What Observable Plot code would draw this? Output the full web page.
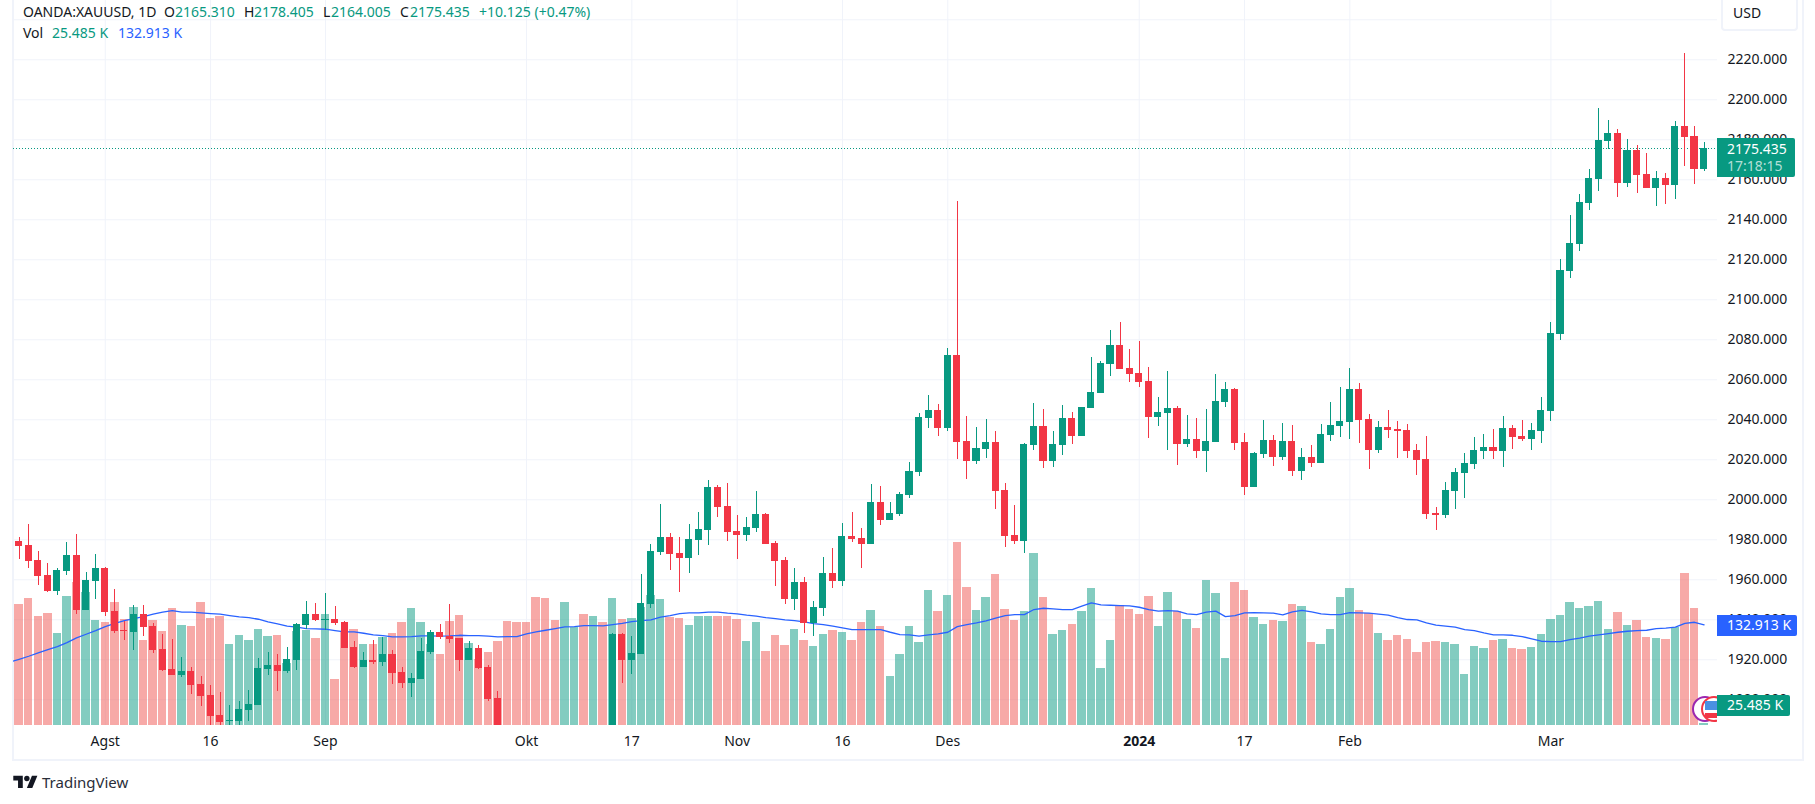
<!DOCTYPE html>
<html>
<head>
<meta charset="utf-8">
<script src="https://cdn.jsdelivr.net/npm/d3@7"></script>
<script src="https://cdn.jsdelivr.net/npm/@observablehq/plot@0.6"></script>
<style>
html,body{margin:0;padding:0;background:#fff;width:1815px;height:804px;overflow:hidden}
#wrap{position:relative;width:1815px;height:804px;font-family:"Noto Sans",sans-serif;color:#131722}
#wrap svg{display:block}
#pane{position:absolute;left:12px;top:-4px;width:1788px;height:763px;border:2px solid #f0f3fa;border-top:none}
#chart{position:absolute;left:0;top:0}
.t{position:absolute;white-space:pre;line-height:20px;font-size:14px}
.g{color:#089981}.b{color:#2962ff}
.badge{position:absolute;left:1717px;background:#089981;color:#fff;border-radius:0 2px 2px 0;font-size:14px}
.badge span{position:absolute;left:10px;white-space:pre;line-height:20px}
</style>
</head>
<body>
<div id="wrap">
<div id="pane"></div>
<div id="chart"></div>
<div class="t" style="left:23px;top:2px">OANDA:XAUUSD, 1D</div>
<div class="t" style="left:164px;top:2px">O</div><div class="t g" style="left:175px;top:2px">2165.310</div>
<div class="t" style="left:244px;top:2px">H</div><div class="t g" style="left:254px;top:2px">2178.405</div>
<div class="t" style="left:323px;top:2px">L</div><div class="t g" style="left:331px;top:2px">2164.005</div>
<div class="t" style="left:400px;top:2px">C</div><div class="t g" style="left:410px;top:2px">2175.435</div>
<div class="t g" style="left:479px;top:2px">+10.125 (+0.47%)</div>
<div class="t" style="left:23px;top:23px">Vol</div>
<div class="t g" style="left:52px;top:23px">25.485 K</div>
<div class="t b" style="left:118px;top:23px">132.913 K</div>
<div style="position:absolute;left:1721px;top:-3px;width:73px;height:30px;border:2px solid #f0f3fa;border-radius:4px;background:#fff"></div>
<div class="t" style="left:1733px;top:3px">USD</div>
<svg style="position:absolute;left:1685px;top:690px" width="32" height="35" viewBox="0 0 32 35">
<circle cx="20" cy="19" r="12" fill="#fff" stroke="#9c27b0" stroke-width="2"/>
<circle cx="29" cy="19" r="12" fill="#fff" stroke="#f23645" stroke-width="2"/>
<rect x="20" y="11" width="12" height="9" fill="#4a90e2"/>
<rect x="20" y="23" width="12" height="5" fill="#f23645"/>
</svg>
<div class="badge" style="top:138px;width:78px;height:39px"><span style="top:1px">2175.435</span><span style="top:18px;color:rgba(255,255,255,.7)">17:18:15</span></div>
<div class="badge" style="top:615px;width:80px;height:21px;background:#2962ff"><span style="top:0">132.913 K</span></div>
<div class="badge" style="top:695px;width:73px;height:21px"><span style="top:0">25.485 K</span></div>
<svg style="position:absolute;left:13px;top:773px" width="25" height="19" viewBox="0 0 36 28" fill="#131722">
<path d="M14 22H7V11H0V4h14v18zM28 22h-8l7.5-18h8L28 22z"/><circle cx="20" cy="8" r="4"/>
</svg>
<div class="t" style="left:42px;top:772px;color:#2a2e39;font-size:15px">TradingView</div>
</div>
<script>
const xTickIndex = [9,20,32,53,64,75,86,97,117,128,139,160];
const xTickLabels = ["Agst","16","Sep","Okt","17","Nov","16","Des","2024","17","Feb","Mar"];
const gridPrices = [1900,1920,1940,1960,1980,2000,2020,2040,2060,2080,2100,2120,2140,2160,2180,2200,2220,2240];
const axisPrices = [1900,1920,1940,1960,1980,2000,2020,2040,2060,2080,2100,2120,2140,2160,2180,2200,2220];
const lastClose = 2175.435;

const open = [1979.15,1977.15,1969.65,1962.15,1954.15,1964.15,1972.15,1944.65,1959.15,1965.65,
1944.15,1934.65,1933.65,1942.65,1936.65,1925.15,1915.15,1912.15,1914.15,1907.65,
1902.15,1892.15,1889.3,1889.15,1894.65,1897.15,1915.15,1917.15,1914.15,1919.65,
1937.15,1942.65,1939.8,1940.15,1938.65,1926.15,1916.15,1919.65,1918.65,1922.65,
1913.65,1908.15,1910.15,1923.65,1933.65,1931.65,1930.65,1919.65,1925.65,1916.15,
1900.65,null,null,null,null,null,null,null,null,null,
null,null,1869,1932.65,1919.65,1922.65,1947.65,1973.65,1981.15,1973.15,
1970.65,1979.65,1984.65,2006.15,1996.65,1984.15,1982.15,1985.65,1992.65,1978.15,
1969.65,1950.15,1958.65,1938.15,1945.65,1963.15,1959.15,1981.65,1980.65,1977.65,
1998.65,1989.65,1992.65,2002.15,2013.65,2040.65,2044.65,2035.65,2072.15,2029.15,
2019.15,2025.15,2028.65,2004.65,1982.15,1979.15,2027.15,2036.65,2019.15,2027.15,
2040.65,2031.65,2045.65,2053.15,2067.65,2077.15,2065.65,2063.15,2059.15,2041.15,
2043.15,2045.65,2027.65,2030.15,2024.15,2028.65,2048.65,2055.15,2028.65,2006.15,
2022.65,2029.65,2021.15,2029.15,2014.15,2021.15,2018.15,2032.15,2036.65,2038.65,
2055.15,2040.15,2024.65,2036.15,2035.15,2034.65,2024.65,2020.15,1993.15,1992.15,
2004.15,2013.15,2017.65,2024.15,2026.15,2024.15,2035.65,2031.65,2030.15,2034.15,
2044.15,2082.65,2114.15,2127.65,2148.15,2160.15,2179.15,2183.15,2158.15,2174.65,
2162.65,2155.65,2160.65,2157.15,2186.65,2181.65,2165.31];
const close = [1976.65,1969.15,1961.65,1954.15,1964.65,1972.15,1944.65,1959.65,1965.65,1943.65,
1934.15,1934.3,1942.65,1936.15,1924.65,1914.65,1912.15,1914.15,1907.15,1901.65,
1891.65,1888.65,1889.65,1895.15,1897.65,1915.65,1917.15,1914.15,1920.15,1937.65,
1942.65,1939.65,1940.15,1938.15,1925.65,1916.15,1919.65,1918.65,1922.65,1913.15,
1908.15,1910.65,1924.15,1933.65,1931.15,1930.15,1919.65,1925.65,1915.65,1900.15,
1874,null,null,null,null,null,null,null,null,null,
null,null,1932.65,1919.65,1923.15,1948.15,1974.15,1981.15,1972.65,1970.65,
1980.15,1985.15,2006.15,1996.15,1983.65,1982.15,1986.15,1992.65,1977.65,1969.15,
1950.15,1958.65,1938.15,1946.15,1963.15,1959.15,1981.65,1980.15,1977.65,1998.65,
1989.65,1993.15,2002.65,2014.15,2041.15,2044.65,2035.65,2072.15,2028.65,2019.15,
2025.65,2028.65,2004.15,1981.65,1979.15,2027.65,2036.65,2019.15,2027.65,2040.65,
2031.65,2046.15,2053.65,2068.15,2077.15,2065.15,2062.65,2058.65,2041.15,2043.65,
2045.65,2027.65,2030.15,2024.15,2029.15,2049.15,2055.15,2028.15,2006.15,2023.15,
2029.65,2021.15,2029.15,2014.15,2021.15,2018.15,2032.65,2037.15,2039.15,2055.15,
2039.65,2024.65,2036.15,2034.65,2034.15,2024.15,2019.65,1992.65,1992.15,2004.65,
2013.65,2018.15,2024.65,2026.15,2024.15,2035.65,2031.15,2030.15,2034.65,2044.65,
2083.15,2114.65,2128.15,2148.65,2160.65,2179.65,2183.15,2158.15,2174.65,2162.15,
2155.65,2160.65,2157.15,2186.65,2181.15,2165.15,2175.435];
const high = [1981.15,1987.65,1974.15,1968.15,1965.65,1978.65,1982.65,1963.65,1972.65,1966.15,
1955.15,1939.15,1947.15,1947.15,1938.15,1932.65,1930.15,1921.15,1916.15,1911.65,
1907.15,1903.65,1897.15,1899.15,1904.65,1920.65,1923.65,1922.65,1926.15,1938.15,
1949.15,1948.15,1953.15,1946.65,1939.15,1929.15,1923.65,1929.65,1931.15,1924.65,
1916.15,1913.15,1930.65,1934.65,1937.65,1947.65,1930.65,1929.15,1927.15,1917.15,
1904.15,null,null,null,null,null,null,null,null,null,
null,null,1933.15,1933.15,1931.65,1962.65,1977.65,1997.65,1983.15,1981.15,
1987.65,1993.65,2009.65,2007.15,2008.15,1992.15,1991.15,2004.15,1993.15,1979.15,
1971.15,1965.65,1961.15,1949.15,1971.15,1975.65,1988.15,1993.65,1985.65,2007.65,
2006.65,1998.65,2003.65,2018.65,2043.15,2052.15,2047.65,2075.65,2149.15,2041.65,
2036.15,2040.15,2034.15,2008.15,1997.15,2028.15,2048.15,2045.15,2034.15,2047.15,
2043.65,2046.15,2071.15,2069.15,2084.65,2088.65,2075.15,2079.15,2066.15,2051.15,
2064.15,2046.65,2042.15,2040.65,2045.15,2062.65,2058.65,2055.65,2033.15,2023.65,
2039.65,2032.15,2038.15,2037.15,2025.65,2027.15,2037.65,2048.65,2056.15,2065.65,
2058.15,2042.65,2039.15,2044.65,2039.15,2037.65,2027.65,2031.65,1996.15,2008.65,
2015.65,2023.15,2031.15,2032.65,2035.15,2041.65,2037.15,2039.65,2038.15,2051.15,
2088.65,2120.15,2142.15,2152.65,2165.15,2195.65,2189.65,2185.15,2180.15,2177.15,
2173.15,2164.15,2163.15,2189.15,2223.15,2186.65,2178.405];
const low = [1970.15,1965.65,1957.15,1953.65,1952.15,1962.15,1942.65,1944.65,1950.15,1941.65,
1933.15,1929.65,1924.65,1931.65,1923.15,1914.15,1912.15,1911.15,1902.65,1896.65,
1884,1884,1884,1884,1889.15,1897.15,1912.15,1904.15,1913.15,1914.65,
1935.15,1939.15,1934.65,1937.15,1925.65,1915.65,1916.15,1917.65,1916.65,1907.65,
1905.65,1901.15,1910.15,1922.65,1930.15,1928.15,1914.15,1919.65,1915.15,1899.15,
1871,null,null,null,null,null,null,null,null,null,
null,null,1868,1908.15,1912.65,1922.65,1945.65,1972.15,1964.65,1953.65,
1963.15,1972.15,1977.15,1991.15,1979.15,1970.15,1979.15,1983.65,1977.65,1956.65,
1947.65,1944.65,1933.15,1931.65,1941.65,1955.65,1956.65,1978.65,1965.65,1977.65,
1987.15,1989.65,1991.65,2000.65,2011.65,2035.65,2031.65,2034.15,2020.15,2010.15,
2017.65,2020.65,1995.15,1976.15,1977.65,1973.15,2024.65,2015.65,2016.15,2022.15,
2027.65,2031.65,2045.65,2053.15,2061.65,2065.15,2058.65,2056.15,2030.65,2036.65,
2024.65,2017.15,2026.15,2020.65,2013.65,2028.65,2046.15,2024.65,2002.15,2006.15,
2020.65,2016.65,2019.65,2011.65,2009.65,2016.15,2018.15,2029.15,2031.15,2030.15,
2028.15,2015.15,2023.15,2030.65,2020.65,2020.65,2012.15,1990.15,1984.65,1990.65,
1995.15,2000.65,2015.15,2020.15,2020.15,2016.15,2025.15,2029.15,2024.65,2028.15,
2039.15,2079.65,2110.65,2124.15,2144.65,2154.15,2175.15,2151.15,2156.15,2153.15,
2155.65,2146.65,2147.65,2150.15,2166.65,2157.65,2164.005];
// volume of each daily bar, thousands
const volume = [155.0,161.6,141.9,145.2,123.4,163.8,179.1,168.1,137.6,135.4,
157.2,138.7,151.8,115.7,137.6,125.6,150.7,132.1,131.0,157.2,
139.7,141.9,111.4,121.2,115.7,127.7,120.1,121.2,90.6,125.6,
126.6,117.9,144.1,73.1,124.0,127.7,111.4,111.4,119.0,123.4,
135.4,150.7,135.4,111.4,100.4,136.5,143.0,112.4,95.0,102.6,
114.6,136.5,135.4,135.4,162.7,161.6,137.6,157.2,130.3,144.1,
141.9,135.4,161.6,138.7,139.7,152.1,164.9,160.5,140.8,139.7,
132.1,141.9,141.9,141.9,141.9,138.7,114.6,135.4,103.7,121.2,
110.3,127.7,115.7,109.2,122.3,126.6,124.5,115.7,135.4,148.5,
131.0,76.4,100.4,131.0,113.5,170.3,147.4,164.9,222.7,173.6,
148.5,162.7,187.8,149.6,137.6,147.4,210.7,162.7,122.3,126.6,
133.2,147.4,172.5,85.1,115.7,153.9,149.6,144.1,163.8,131.0,
168.1,147.4,138.7,128.8,181.2,167.0,96.1,179.1,170.3,140.8,
133.2,137.6,136.5,155.0,152.8,113.5,111.4,127.7,162.7,172.5,
148.5,145.2,123.4,115.7,121.2,116.8,102.6,113.5,114.6,113.5,
111.4,78.6,109.2,107.0,115.7,116.8,107.0,105.9,108.1,122.3,
138.7,143.0,157.2,150.7,152.8,158.3,127.7,146.3,132.1,137.6,
119.0,117.9,116.8,129.9,188.9,150.7,25.485];
// direction of each bar: g = up, r = down
const direction = ("rrrrggrggr"+"rrgrrrrgrr"+"rrgggggrgg"+"grgrrrgrgr"+"rgggrrrgrr"+
"rrrrrrrggr"+"grgrggggrr"+"gggrrrggrr"+"rgrggrgrrg"+"rgggggrgrr"+
"ggrrrggrgg"+"rggggrrrrg"+"grgrgggrrg"+"grgrgrgggg"+"rrgrrrrrrg"+
"ggggrgrrgg"+"gggggggrgr"+"rgrgrrg").split("");
// 20-bar moving average of volume, thousands; first value belongs to the bar before the window
const volumeMA = [92.1,95.3,98.6,102.3,105.9,109.2,113.5,118.6,122.6,126.6,131.0,
134.6,137.6,139.7,141.9,144.5,146.7,148.5,146.7,146.7,145.9,
145.2,144.5,143.0,141.6,140.8,139.0,136.1,133.9,131.4,130.3,
128.8,128.5,128.1,126.6,125.2,125.2,123.7,121.9,121.2,119.7,
119.7,120.1,120.8,120.8,120.5,120.8,121.5,121.2,121.2,120.5,
119.7,120.1,120.1,123.0,125.2,127.0,128.8,130.6,131.0,132.1,
132.1,131.7,133.2,134.6,136.5,137.6,138.3,141.2,143.0,145.2,
145.9,145.9,146.7,146.7,145.6,144.8,143.4,142.3,140.8,139.7,
138.3,137.6,136.1,134.3,133.2,131.4,129.6,127.7,127.7,127.7,
127.7,124.8,122.3,121.9,120.5,121.9,123.0,124.8,131.0,133.2,
135.0,137.2,140.1,143.0,144.1,144.1,149.6,151.0,150.3,149.6,
149.6,153.2,156.9,154.7,154.3,153.9,153.6,152.1,149.6,147.8,
148.5,147.8,144.8,144.1,146.7,147.8,141.9,143.0,145.9,146.3,
145.9,145.6,143.7,147.0,148.8,147.0,144.8,144.1,144.1,146.3,
145.9,145.6,144.5,143.4,140.8,138.7,138.3,135.0,132.5,131.4,
130.3,127.7,126.6,124.1,121.9,121.9,121.5,120.1,117.5,115.0,
114.6,114.6,116.8,118.3,120.5,121.9,123.4,124.8,125.9,126.6,
127.0,128.8,129.2,130.3,134.6,135.7,132.913];

const GREEN = "#089981", RED = "#f23645", BLUE = "#2962ff", GRID = "#f0f3fa";
const VOL_GREEN = "#089981", VOL_RED = "#ef5350";
// the volume pane shares the price frame: a second, linear axis mapped onto it
const volumeToPrice = d3.scaleLinear([23, 132.913], [1887.15, 1937.49]);

const bars = volume.map((v, i) => ({
  i, v, top: volumeToPrice(v), base: volumeToPrice(23),
  o: open[i], c: close[i], h: high[i], l: low[i],
  colour: direction[i] === "g" ? GREEN : RED,
  volColour: direction[i] === "g" ? VOL_GREEN : VOL_RED
}));
const candles = bars.filter(d => d.o != null);
const ma = volumeMA.map((v, k) => ({i: k - 1, p: volumeToPrice(v)}));

const chart = Plot.plot({
  width: 1815, height: 804,
  marginLeft: 13, marginRight: 98, marginTop: 0, marginBottom: 79,
  style: {background: "transparent", fontFamily: "'Noto Sans',sans-serif", color: "#131722"},
  x: {domain: [-0.585, 177.4], ticks: xTickIndex},
  y: {domain: [1887.15, 2249.65]},
  color: {type: "identity"},
  marks: [
    Plot.gridY(gridPrices, {stroke: GRID, strokeOpacity: 1}),
    Plot.gridX(xTickIndex, {stroke: GRID, strokeOpacity: 1}),
    Plot.rect(bars, {x1: d => d.i - 0.44, x2: d => d.i + 0.44, y1: "base", y2: "top", fill: "volColour", fillOpacity: 0.5, clip: true, shapeRendering: "crispEdges"}),
    Plot.line(ma, {x: "i", y: "p", stroke: BLUE, strokeWidth: 1.3, clip: true}),
    Plot.ruleY([lastClose], {stroke: GREEN, strokeWidth: 1, strokeDasharray: "1,2", shapeRendering: "crispEdges"}),
    Plot.ruleX(candles, {x: "i", y1: "l", y2: "h", stroke: "colour", strokeWidth: 1, clip: true, shapeRendering: "crispEdges"}),
    Plot.rect(candles, {x1: d => d.i - 0.37, x2: d => d.i + 0.37, y1: "o", y2: "c", fill: "colour", clip: true, shapeRendering: "crispEdges"}),
    Plot.axisY(axisPrices, {anchor: "right", tickSize: 0, tickPadding: 10, tickFormat: d3.format(".3f"), fontSize: 14, label: null}),
    Plot.axisX(xTickIndex.filter((_, k) => xTickLabels[k] !== "2024"), {
      tickSize: 0, tickPadding: 11, fontSize: 14, label: null,
      tickFormat: d => xTickLabels[xTickIndex.indexOf(d)]
    }),
    Plot.axisX(xTickIndex.filter((_, k) => xTickLabels[k] === "2024"), {
      tickSize: 0, tickPadding: 11, fontSize: 14, fontWeight: "bold", label: null,
      tickFormat: d => xTickLabels[xTickIndex.indexOf(d)]
    })
  ]
});
document.getElementById("chart").appendChild(chart);
</script>
</body>
</html>
